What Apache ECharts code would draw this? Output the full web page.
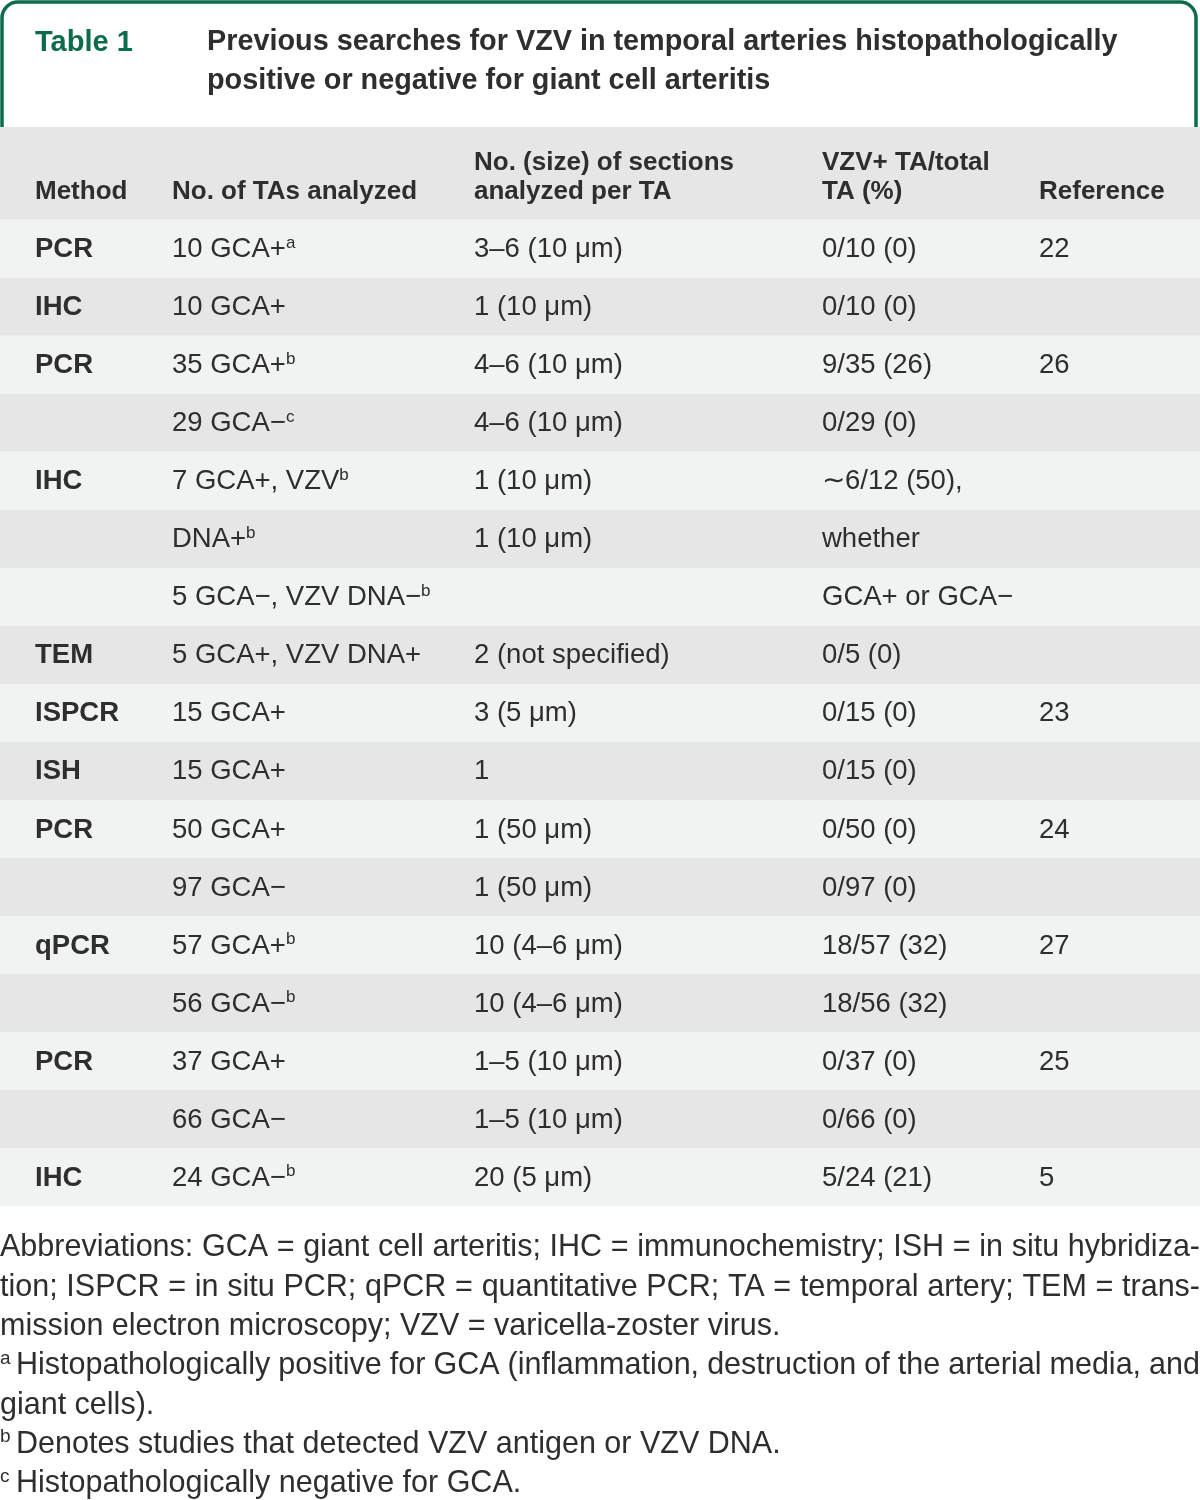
<!DOCTYPE html>
<html>
<head>
<meta charset="utf-8">
<title>Table 1</title>
<script src="https://cdn.jsdelivr.net/npm/echarts@6/dist/echarts.min.js"></script>
<style>
  html, body { margin: 0; padding: 0; background: #fff; }
  #chart { width: 1200px; height: 1500px; }
</style>
</head>
<body>
<div id="chart"></div>
<script>
// --- table content ---
const tableLabel = 'Table 1'
const titleLines = [
  'Previous searches for VZV in temporal arteries histopathologically',
  'positive or negative for giant cell arteritis'
]
const headers = [
  ['Method'],
  ['No. of TAs analyzed'],
  ['No. (size) of sections', 'analyzed per TA'],
  ['VZV+ TA/total', 'TA (%)'],
  ['Reference']
]
const methods = ['PCR', 'IHC', 'PCR', '', 'IHC', '', '', 'TEM', 'ISPCR', 'ISH', 'PCR', '', 'qPCR', '', 'PCR', '', 'IHC']
const tasAnalyzed = [
  '10 GCA+{sup|a}', '10 GCA+', '35 GCA+{sup|b}', '29 GCA−{sup|c}', '7 GCA+, VZV{sup|b}',
  'DNA+{sup|b}', '5 GCA−, VZV DNA−{sup|b}', '5 GCA+, VZV DNA+', '15 GCA+', '15 GCA+',
  '50 GCA+', '97 GCA−', '57 GCA+{sup|b}', '56 GCA−{sup|b}', '37 GCA+', '66 GCA−', '24 GCA−{sup|b}'
]
const sections = [
  '3–6 (10 μm)', '1 (10 μm)', '4–6 (10 μm)', '4–6 (10 μm)', '1 (10 μm)',
  '1 (10 μm)', '', '2 (not specified)', '3 (5 μm)', '1',
  '1 (50 μm)', '1 (50 μm)', '10 (4–6 μm)', '10 (4–6 μm)', '1–5 (10 μm)', '1–5 (10 μm)', '20 (5 μm)'
]
const positives = [
  '0/10 (0)', '0/10 (0)', '9/35 (26)', '0/29 (0)', '∼6/12 (50),',
  'whether', 'GCA+ or GCA−', '0/5 (0)', '0/15 (0)', '0/15 (0)',
  '0/50 (0)', '0/97 (0)', '18/57 (32)', '18/56 (32)', '0/37 (0)', '0/66 (0)', '5/24 (21)'
]
const references = ['22', '', '26', '', '', '', '', '', '23', '', '24', '', '27', '', '25', '', '5']

const abbreviationLines = [
  'Abbreviations: GCA = giant cell arteritis; IHC = immunochemistry; ISH = in situ hybridiza-',
  'tion; ISPCR = in situ PCR; qPCR = quantitative PCR; TA = temporal artery; TEM = trans-',
  'mission electron microscopy; VZV = varicella-zoster virus.'
]
const noteMarks = ['a', 'b', 'c']
const noteLines = [
  ['Histopathologically positive for GCA (inflammation, destruction of the arterial media, and', 'giant cells).'],
  ['Denotes studies that detected VZV antigen or VZV DNA.'],
  ['Histopathologically negative for GCA.']
]

// --- look ---
const FONT = '"Liberation Sans", Arial, sans-serif'
const GREEN = '#0d6b4d'
const INK = '#2e2e2e'
const STRIPE_LIGHT = '#f1f2f2'
const STRIPE_DARK = '#e6e6e6'
const colLeft = [35, 172, 474, 822, 1039]
const HEADER_SPAN = 1.6   // header height in row units
const PAGE_W = 1200

const columns = [methods, tasAnalyzed, sections, positives, references]
const supStyle = { fontSize: 17, fontFamily: FONT, fill: INK, verticalAlign: 'top', lineHeight: 18 }

const chart = echarts.init(document.getElementById('chart'), null, { renderer: 'canvas' })

function cellText(x, y, text, bold, size) {
  return {
    type: 'text',
    x: x,
    y: y,
    style: {
      text: text,
      fill: INK,
      fontFamily: FONT,
      fontSize: size,
      fontWeight: bold ? 'bold' : 'normal',
      align: 'left',
      verticalAlign: 'middle',
      lineHeight: 30,
      rich: { sup: supStyle }
    }
  }
}

const renderRow = (params, api) => {
  const r = api.value(1)
  const p0 = api.coord([0, r])
  const p1 = api.coord([PAGE_W, r + 1])
  const midY = (p0[1] + p1[1]) / 2
  const children = [{
    type: 'rect',
    shape: { x: p0[0], y: p0[1], width: p1[0] - p0[0], height: p1[1] - p0[1] },
    style: { fill: r % 2 ? STRIPE_DARK : STRIPE_LIGHT }
  }]
  columns.forEach((col, c) => {
    if (!col[r]) return
    children.push(cellText(api.coord([colLeft[c], r])[0], midY + 1, col[r], c === 0, 27.5))
  })
  return { type: 'group', children }
}

const renderHeader = (params, api) => {
  const p0 = api.coord([0, -HEADER_SPAN])
  const p1 = api.coord([PAGE_W, 0])
  const children = [{
    type: 'rect',
    shape: { x: p0[0], y: p0[1], width: p1[0] - p0[0], height: p1[1] - p0[1] },
    style: { fill: STRIPE_DARK }
  }]
  headers.forEach((lines, c) => {
    lines.forEach((line, k) => {
      const yPos = -0.5 - 0.5 * (lines.length - 1 - k)
      const pt = api.coord([colLeft[c], yPos])
      children.push(cellText(pt[0], pt[1] + 1, line, true, 26))
    })
  })
  return { type: 'group', children }
}

// --- footnotes, justified like the printed page ---
const measureCtx = document.createElement('canvas').getContext('2d')
const textWidth = (s, size) => {
  measureCtx.font = size + 'px ' + FONT
  return measureCtx.measureText(s).width
}

const NOTE_SIZE = 30.5
const NOTE_TOP = 1248
const NOTE_STEP = 39.3

const noteElements = []
const addNoteLine = (line, lineIdx, startX, justify) => {
  const y = NOTE_TOP + lineIdx * NOTE_STEP
  const words = line.split(' ')
  const widths = words.map(w => textWidth(w, NOTE_SIZE))
  const total = widths.reduce((a, b) => a + b, 0)
  const space = textWidth(' ', NOTE_SIZE)
  const gap = justify && words.length > 1 ? Math.max(space * 0.5, (PAGE_W - startX - total) / (words.length - 1)) : space
  let x = startX
  words.forEach((w, i) => {
    noteElements.push({
      type: 'text', x: x, y: y,
      style: { text: w, fill: INK, fontFamily: FONT, fontSize: NOTE_SIZE, verticalAlign: 'middle' }
    })
    x += widths[i] + gap
  })
}

let lineIdx = 0
abbreviationLines.forEach((line, i) => {
  addNoteLine(line, lineIdx++, 0, i < abbreviationLines.length - 1)
})
noteMarks.forEach((mark, m) => {
  noteElements.push({
    type: 'text', x: 0, y: NOTE_TOP + lineIdx * NOTE_STEP - 17,
    style: { text: mark, fill: INK, fontFamily: FONT, fontSize: 19, verticalAlign: 'top' }
  })
  noteLines[m].forEach((line, i) => {
    addNoteLine(line, lineIdx++, i === 0 ? 16 : 0, i < noteLines[m].length - 1)
  })
})

const option = {
  animation: false,
  backgroundColor: '#fff',
  title: [
    {
      text: tableLabel, left: 35, top: 23, padding: 0,
      textStyle: { color: GREEN, fontFamily: FONT, fontWeight: 'bold', fontSize: 29, lineHeight: 39 }
    },
    {
      text: titleLines.join('\n'), left: 207, top: 23, padding: 0,
      textStyle: { color: INK, fontFamily: FONT, fontWeight: 'bold', fontSize: 28.8, lineHeight: 39 }
    }
  ],
  graphic: [
    {
      type: 'rect', z: 0,
      shape: { x: 2, y: 2, width: 1194, height: 150, r: [16, 16, 0, 0] },
      style: { fill: 'none', stroke: GREEN, lineWidth: 3.5 }
    },
    { type: 'group', children: noteElements }
  ],
  grid: { left: 0, right: 0, top: 127, bottom: 294 },
  xAxis: { type: 'value', min: 0, max: PAGE_W, show: false },
  yAxis: { type: 'value', inverse: true, min: -HEADER_SPAN, max: methods.length, show: false },
  series: [
    {
      type: 'custom', z: 3, clip: false, silent: true,
      renderItem: renderHeader,
      data: [[0, -HEADER_SPAN]]
    },
    {
      type: 'custom', z: 3, clip: false, silent: true,
      renderItem: renderRow,
      data: methods.map((m, i) => [0, i])
    }
  ]
}

chart.setOption(option)
</script>
</body>
</html>
